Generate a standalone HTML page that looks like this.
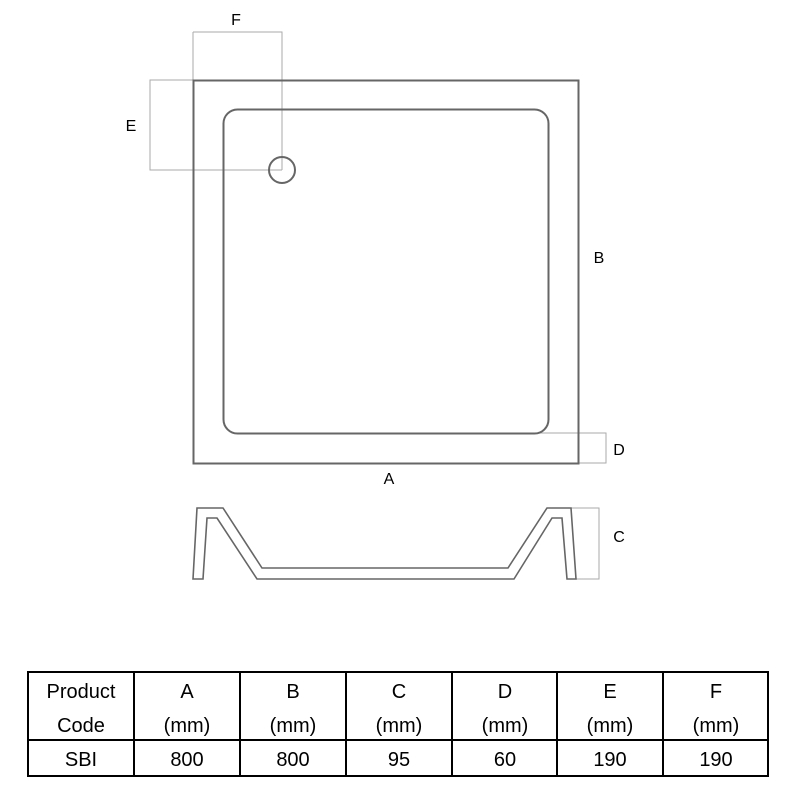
<!DOCTYPE html>
<html><head><style>
body{margin:0;background:#fff;}
svg{display:block;}
text{font-family:"Liberation Sans",sans-serif;fill:#000;}
</style></head><body>
<svg width="800" height="800" viewBox="0 0 800 800" xmlns="http://www.w3.org/2000/svg">
<g fill="none" stroke="#aaa" stroke-width="1">
<polyline points="193,32 282,32 282,170"/>
<line x1="193" y1="32" x2="193" y2="80"/>
<polyline points="193,80 150,80 150,170 282,170"/>
<polyline points="535,433 606,433 606,463 578,463"/>
<polyline points="571,508 599,508 599,579 575,579"/>
</g>
<g fill="none" stroke="#666" stroke-width="2">
<rect x="193.5" y="80.5" width="385" height="383"/>
<rect x="223.5" y="109.5" width="325" height="324" rx="14"/>
<circle cx="282" cy="170" r="13"/>
<polygon stroke-width="1.6" points="193,579 197,508 223,508 262,568 508,568 547,508 571,508 576,579 567,579 562,518 552,518 514,579 257,579 217,518 207,518 203,579"/>
</g>
<text x="236" y="25" font-size="16" text-anchor="middle">F</text>
<text x="131" y="131" font-size="16" text-anchor="middle">E</text>
<text x="599" y="263" font-size="16" text-anchor="middle">B</text>
<text x="619" y="455" font-size="16" text-anchor="middle">D</text>
<text x="389" y="484" font-size="16" text-anchor="middle">A</text>
<text x="619" y="542" font-size="16" text-anchor="middle">C</text>
<g stroke="#000" stroke-width="2" fill="none">
<rect x="28" y="672" width="740" height="104"/>
<line x1="28" y1="740" x2="768" y2="740"/>
<line x1="134" y1="672" x2="134" y2="776"/>
<line x1="240" y1="672" x2="240" y2="776"/>
<line x1="346" y1="672" x2="346" y2="776"/>
<line x1="452" y1="672" x2="452" y2="776"/>
<line x1="557" y1="672" x2="557" y2="776"/>
<line x1="663" y1="672" x2="663" y2="776"/>
</g>
<g font-size="20" text-anchor="middle">
<text x="81" y="698">Product</text><text x="81" y="732">Code</text><text x="81" y="766">SBI</text>
<text x="187" y="698">A</text><text x="187" y="732">(mm)</text><text x="187" y="766">800</text>
<text x="293" y="698">B</text><text x="293" y="732">(mm)</text><text x="293" y="766">800</text>
<text x="399" y="698">C</text><text x="399" y="732">(mm)</text><text x="399" y="766">95</text>
<text x="505" y="698">D</text><text x="505" y="732">(mm)</text><text x="505" y="766">60</text>
<text x="610" y="698">E</text><text x="610" y="732">(mm)</text><text x="610" y="766">190</text>
<text x="716" y="698">F</text><text x="716" y="732">(mm)</text><text x="716" y="766">190</text>
</g>
</svg>
</body></html>
